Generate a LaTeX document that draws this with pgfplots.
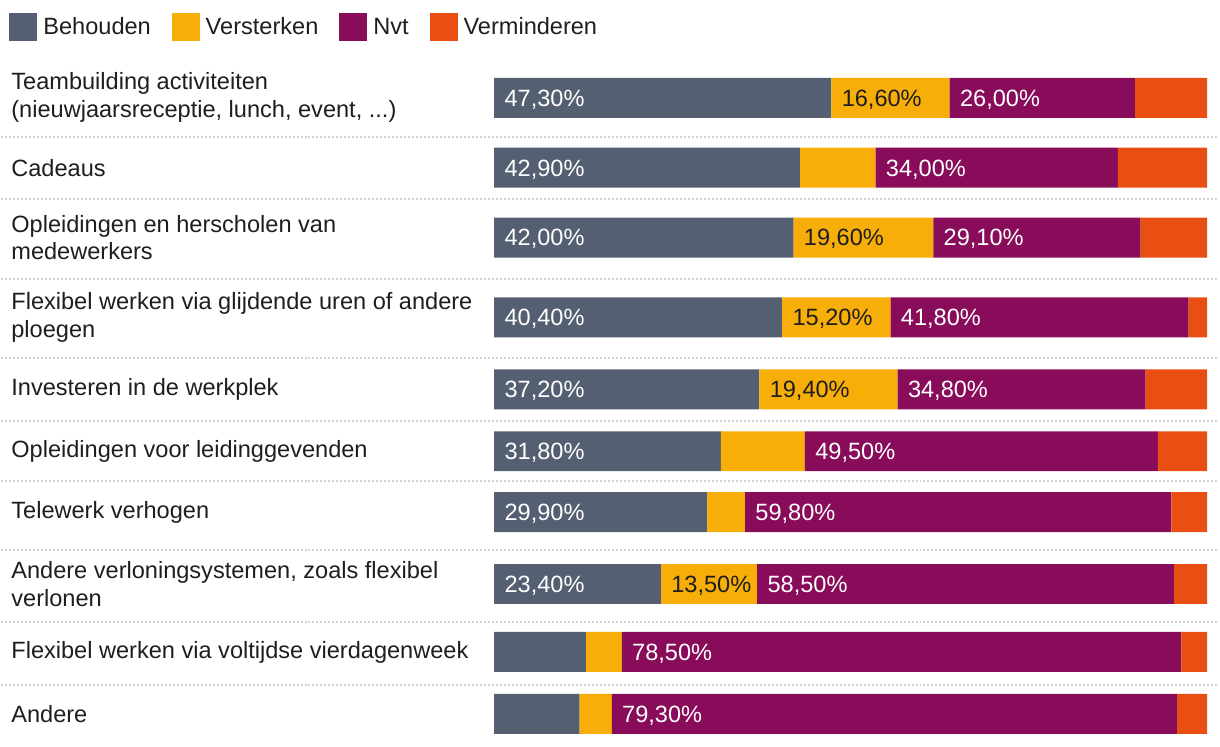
\documentclass[border=0pt]{standalone}
\usepackage{pgfplots}
\pgfplotsset{compat=1.18}
\usepackage{pgfplotstable}
\usepackage{fontspec}
\setmainfont{Liberation Sans}
\definecolor{cB}{HTML}{555F72}
\definecolor{cV}{HTML}{F8AE08}
\definecolor{cN}{HTML}{880C59}
\definecolor{cM}{HTML}{E94E13}
\definecolor{txt}{HTML}{1E1E1E}
\definecolor{sep}{HTML}{D2D2D2}
\newcommand{\fnt}{\fontsize{11.8}{14}\selectfont}
\newcommand{\lgd}[1]{\raisebox{0pt}[8.45pt][0pt]{#1}}
\pgfplotsset{sq legend/.style={legend image code/.code={\fill[##1] (0pt,-7pt) rectangle (14pt,7pt);}}}

\pgfplotstableread{
y B V N M
-98 47.3 16.6 26.0 10.1
-168 42.9 10.6 34.0 12.5
-238 42.0 19.6 29.1 9.3
-318 40.4 15.2 41.8 2.6
-390 37.2 19.4 34.8 8.6
-452 31.8 11.8 49.5 6.9
-513 29.9 5.3 59.8 5.0
-585 23.4 13.5 58.5 4.6
-653 12.9 5.0 78.5 3.6
-715 12.0 4.5 79.3 4.2
}\data

\pgfplotstableread{
y x lab
-98 0 47,30
-168 0 42,90
-238 0 42,00
-318 0 40,40
-390 0 37,20
-452 0 31,80
-513 0 29,90
-585 0 23,40
-98 63.9 26,00
-168 53.5 34,00
-238 61.6 29,10
-318 55.6 41,80
-390 56.6 34,80
-452 43.6 49,50
-513 35.2 59,80
-585 36.9 58,50
-653 17.9 78,50
-715 16.5 79,30
}\labW

\pgfplotstableread{
y x lab
-98 47.3 16,60
-238 42.0 19,60
-318 40.4 15,20
-390 37.2 19,40
-585 23.4 13,50
}\labD

\begin{document}
\begin{tikzpicture}
\begin{axis}[
  scale only axis,
  width=610pt, height=374pt,
  xmin=-69.188, xmax=101.68,
  ymin=-748, ymax=0,
  bar width=40,
  axis line style={draw=none},
  major tick length=0pt,
  xtick=\empty,
  ytick={-98,-168,-238,-318,-390,-452,-513,-585,-653,-715},
  yticklabels={{Teambuilding activiteiten\\(nieuwjaarsreceptie, lunch, event, .{}.{}.)},
    {Cadeaus},
    {Opleidingen en herscholen van\\medewerkers},
    {Flexibel werken via glijdende uren of andere\\ploegen},
    {Investeren in de werkplek},
    {Opleidingen voor leidinggevenden},
    {Telewerk verhogen},
    {Andere verloningsystemen, zoals flexibel\\verlonen},
    {Flexibel werken via voltijdse vierdagenweek},
    {Andere}},
  yticklabel style={anchor=west, align=left, xshift=5pt, inner sep=0pt, font=\fnt, text=txt},
  extra y ticks={-137,-199,-279,-359,-422,-482,-551,-623,-686},
  extra y tick labels={},
  extra y tick style={grid=major, major grid style={draw=sep, line width=1pt, dash pattern=on 1pt off 1pt}},
  legend style={draw=none, fill=none, inner sep=0pt, at={(rel axis cs:0.0066,0.9826)}, anchor=north west,
    font=\fnt, text=txt,
    /tikz/every odd column/.append style={column sep=1pt},
    /tikz/every even column/.append style={column sep=8.5pt}},
  legend columns=4,
  every node near coord/.style={anchor=base west, inner sep=0pt, xshift=5pt, yshift=-4.2pt, font=\fnt},
]
\addplot[xbar stacked, sq legend, fill=cB, draw=none] table[x=B, y=y] {\data};
\addplot[xbar stacked, sq legend, fill=cV, draw=none] table[x=V, y=y] {\data};
\addplot[xbar stacked, sq legend, fill=cN, draw=none] table[x=N, y=y] {\data};
\addplot[xbar stacked, sq legend, fill=cM, draw=none] table[x=M, y=y] {\data};
\legend{\lgd{Behouden}, \lgd{Versterken}, \lgd{Nvt}, \lgd{Verminderen}}
\addplot[forget plot, only marks, mark=none, point meta=explicit symbolic,
  nodes near coords={\pgfplotspointmeta\%}, nodes near coords style={text=white}]
  table[x=x, y=y, meta=lab] {\labW};
\addplot[forget plot, only marks, mark=none, point meta=explicit symbolic,
  nodes near coords={\pgfplotspointmeta\%}, nodes near coords style={text=txt}]
  table[x=x, y=y, meta=lab] {\labD};
\end{axis}
\end{tikzpicture}
\end{document}
